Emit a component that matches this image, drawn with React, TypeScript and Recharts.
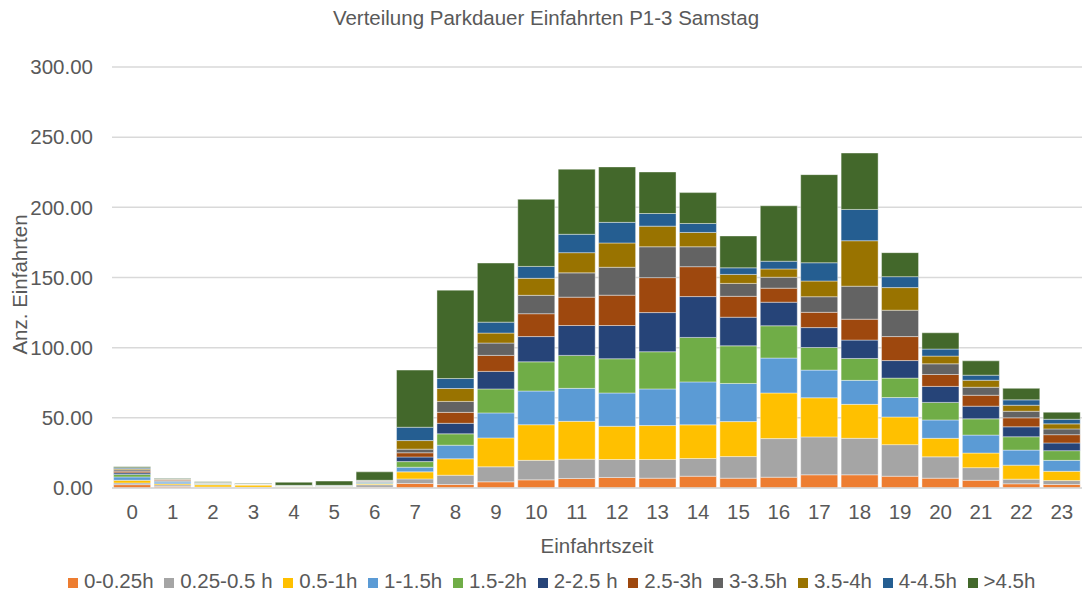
import { Bar, BarChart, CartesianGrid, Label, Legend, XAxis, YAxis } from "recharts"

const hours = ["0", "1", "2", "3", "4", "5", "6", "7", "8", "9", "10", "11", "12", "13", "14", "15", "16", "17", "18", "19", "20", "21", "22", "23"]

const yTicks = [0, 50, 100, 150, 200, 250, 300]

const seriesNames = ["0-0.25h", "0.25-0.5 h", "0.5-1h", "1-1.5h", "1.5-2h", "2-2.5 h", "2.5-3h", "3-3.5h", "3.5-4h", "4-4.5h", ">4.5h"]
const seriesColors = ["#ED7D31", "#A5A5A5", "#FFC000", "#5B9BD5", "#70AD47", "#264478", "#9E480E", "#636363", "#997300", "#255E91", "#43682B"]

// Anzahl Einfahrten je Stunde, pro Parkdauer-Klasse
const d0_025 = [2.4, 1.0, 0.3, 0.2, 0.3, 0.2, 0.5, 3.2, 2.5, 4.4, 5.8, 6.8, 7.5, 7.0, 8.4, 7.0, 7.7, 9.4, 9.4, 8.4, 7.0, 5.5, 3.0, 2.5]
const d025_05 = [1.2, 1.2, 0.5, 0.3, 0.2, 0.4, 1.8, 3.3, 6.6, 10.7, 13.9, 13.7, 12.8, 13.3, 12.6, 15.4, 27.5, 27.0, 26.0, 22.5, 15.2, 9.0, 3.3, 2.8]
const d05_1 = [1.9, 0.8, 1.5, 1.6, 0.5, 0.3, 0.6, 5.0, 11.7, 20.6, 25.4, 27.0, 23.7, 24.2, 24.0, 24.9, 32.5, 27.9, 24.2, 19.7, 13.2, 10.4, 10.0, 6.6]
const d1_15 = [2.4, 1.2, 0.4, 0.2, 0.2, 0.2, 0.5, 3.3, 9.7, 17.8, 24.0, 23.5, 23.7, 26.1, 30.6, 27.2, 24.9, 19.7, 17.1, 13.9, 13.1, 12.8, 10.7, 7.8]
const d15_2 = [1.7, 0.5, 0.3, 0.2, 0.2, 0.2, 0.6, 4.0, 8.1, 17.1, 20.8, 23.5, 24.4, 26.5, 31.7, 26.8, 23.0, 16.1, 15.6, 13.8, 12.5, 11.6, 9.5, 6.9]
const d2_25 = [1.2, 0.4, 0.2, 0.1, 0.1, 0.1, 0.3, 3.3, 7.5, 12.5, 18.0, 21.3, 23.7, 27.9, 29.1, 20.4, 16.8, 14.2, 13.1, 12.5, 11.4, 9.0, 7.1, 5.5]
const d25_3 = [1.2, 0.6, 0.2, 0.1, 0.1, 0.1, 0.3, 3.0, 7.8, 11.4, 16.3, 20.2, 21.6, 24.9, 21.3, 14.9, 10.0, 10.9, 14.9, 17.1, 8.5, 7.8, 6.4, 5.9]
const d3_35 = [1.0, 0.5, 0.3, 0.1, 0.1, 0.2, 0.4, 2.6, 7.8, 8.8, 13.1, 17.3, 19.9, 22.0, 14.2, 9.2, 7.8, 11.1, 23.5, 18.8, 7.6, 5.7, 4.7, 4.1]
const d35_4 = [0.7, 0.3, 0.1, 0.1, 0.1, 0.1, 0.3, 6.1, 9.2, 7.1, 12.1, 14.4, 17.3, 14.7, 10.2, 6.4, 5.9, 11.2, 32.4, 16.1, 5.5, 5.0, 4.3, 3.6]
const d4_45 = [0.7, 0.3, 0.1, 0.1, 0.1, 0.1, 0.2, 9.5, 7.1, 7.8, 8.5, 13.1, 14.7, 9.0, 6.4, 4.7, 5.5, 13.0, 22.3, 7.8, 5.0, 3.6, 3.8, 3.3]
const d45plus = [0.7, 0.3, 0.5, 0.4, 2.2, 3.0, 6.0, 40.7, 63.0, 42.1, 47.8, 46.4, 39.5, 29.6, 22.0, 22.7, 39.5, 62.8, 40.2, 17.1, 11.6, 10.2, 8.2, 5.0]

const seriesValues = [d0_025, d025_05, d05_1, d1_15, d15_2, d2_25, d25_3, d3_35, d35_4, d4_45, d45plus]

const data = hours.map((hour, i) => {
  const row: Record<string, string | number> = { hour }
  seriesValues.forEach((vals, s) => {
    row["s" + s] = vals[i]
  })
  return row
})

const FONT = '"Liberation Sans", Arial, sans-serif'
const TEXT = "#595959"
const GRID = "#d9d9d9"
const FS = 20.5

function YTitle(props: any) {
  const vb = props.viewBox || { y: 0, height: 0 }
  const cy = vb.y + vb.height / 2 + 7
  return (
    <text x={19} y={cy} transform={`rotate(-90 19 ${cy})`} textAnchor="middle" dominantBaseline="central" fill={TEXT} fontSize={FS}>
      Anz. Einfahrten
    </text>
  )
}

export default function App() {
  return (
    <div style={{ position: "absolute", left: 0, top: 0, width: 1092, height: 596, overflow: "hidden", fontFamily: FONT, background: "#fff" }}>
      <BarChart width={1092} height={596} data={data} margin={{ top: 67, right: 10, left: 0, bottom: 3 }} barCategoryGap="4%">
        <CartesianGrid vertical={false} stroke={GRID} strokeWidth={1.5} />
        <XAxis
          dataKey="hour"
          height={81}
          interval={0}
          tickLine={false}
          tickSize={0}
          tickMargin={16}
          axisLine={{ stroke: GRID, strokeWidth: 1.5 }}
          tick={{ fill: TEXT, fontSize: FS }}
        >
          <Label value="Einfahrtszeit" position="insideBottom" offset={16} fill={TEXT} fontSize={FS} />
        </XAxis>
        <YAxis
          width={112}
          domain={[0, 300]}
          ticks={yTicks}
          tickFormatter={(v) => Number(v).toFixed(2)}
          axisLine={false}
          tickLine={false}
          tickSize={0}
          tickMargin={19}
          tick={{ fill: TEXT, fontSize: FS }}
        >
          <Label content={(p: any) => <YTitle {...p} />} />
        </YAxis>
        <Legend
          verticalAlign="bottom"
          align="left"
          iconType="square"
          iconSize={10}
          wrapperStyle={{ fontSize: FS, left: 68, width: 1010, whiteSpace: "nowrap" }}
          formatter={(value) => <span style={{ color: TEXT, paddingLeft: 2, paddingRight: 0.7 }}>{value}</span>}
        />
        {seriesNames.map((name, s) => (
          <Bar
            key={name}
            dataKey={"s" + s}
            name={name}
            stackId="a"
            fill={seriesColors[s]}
            stroke="#ffffff"
            strokeOpacity={0.8}
            strokeWidth={0.5}
            isAnimationActive={false}
          />
        ))}
      </BarChart>
      <div style={{ position: "absolute", top: 0, left: 0, width: 1092, height: 36, lineHeight: "36px", textAlign: "center", fontSize: FS, color: TEXT }}>
        Verteilung Parkdauer Einfahrten P1-3 Samstag
      </div>
    </div>
  )
}
